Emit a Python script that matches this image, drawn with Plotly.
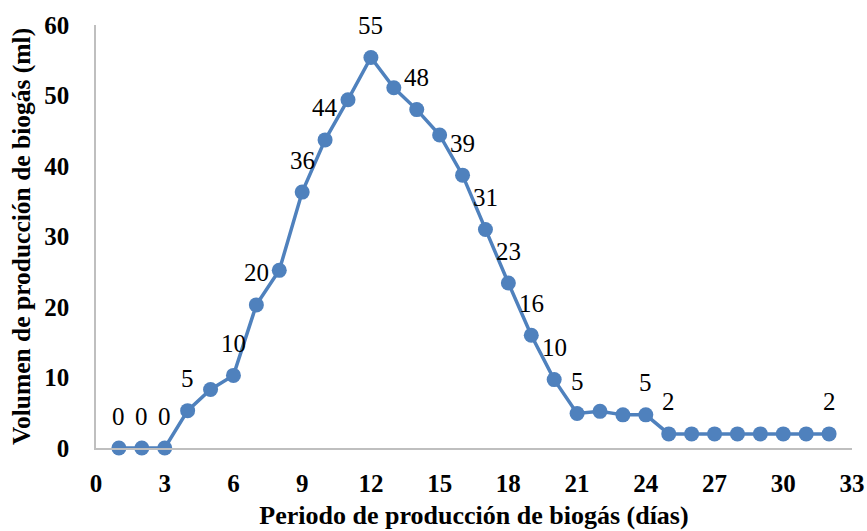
import plotly.graph_objects as go

days = list(range(1, 33))
volume = [0, 0, 0, 5.3, 8.3, 10.3, 20.3, 25.2, 36.3, 43.7, 49.4, 55.4, 51.1, 48.0,
          44.4, 38.7, 31.0, 23.4, 16.0, 9.7, 4.9, 5.2, 4.7, 4.7,
          2.0, 2.0, 2.0, 2.0, 2.0, 2.0, 2.0, 2.0]
labeled_days = [1, 2, 3, 4, 6, 7, 9, 10, 12, 14, 16, 17, 18, 19, 20, 21, 24, 25, 32]
x_ticks = list(range(0, 34, 3))
y_ticks = list(range(0, 61, 10))

color = "#4F81BD"
font_family = "Liberation Serif, Times New Roman, serif"

fig = go.Figure()
fig.add_trace(go.Scatter(
    x=days, y=volume, mode="lines+markers",
    line=dict(color=color, width=3.5),
    marker=dict(color=color, size=15),
    cliponaxis=False,
))

for d in labeled_days:
    v = volume[d - 1]
    fig.add_annotation(x=d, y=v, text=str(int(round(v))), showarrow=False,
                       yshift=32, xanchor="center", yanchor="middle",
                       font=dict(family=font_family, size=25, color="#000000"))

fig.update_layout(
    width=867, height=531,
    margin=dict(l=96, r=15, t=25, b=83),
    paper_bgcolor="white", plot_bgcolor="white",
    showlegend=False,
    font=dict(family=font_family, color="#000000"),
    xaxis=dict(
        range=[0, 33], tickvals=x_ticks, showgrid=False, zeroline=False,
        showline=True, linecolor="#BFBFBF", linewidth=1.5,
        ticks="", ticklabelstandoff=12, automargin=False,
        tickfont=dict(family=font_family, size=25, color="#000000", weight="bold"),
        title=dict(text="<b>Periodo de producción de biogás (días)</b>",
                   font=dict(family=font_family, size=26, color="#000000"), standoff=10),
    ),
    yaxis=dict(
        range=[0, 60], tickvals=y_ticks, showgrid=False, zeroline=False,
        showline=True, linecolor="#BFBFBF", linewidth=1.5,
        ticks="", ticklabelstandoff=20, automargin=False,
        tickfont=dict(family=font_family, size=25, color="#000000", weight="bold"),
        title=dict(text="<b>Volumen de producción de biogás (ml)</b>",
                   font=dict(family=font_family, size=25.5, color="#000000"), standoff=6),
    ),
)

fig.write_html(
    "out.html",
    config={"displayModeBar": False},
    post_script="document.body.style.margin='0';document.body.style.overflow='hidden';",
)
